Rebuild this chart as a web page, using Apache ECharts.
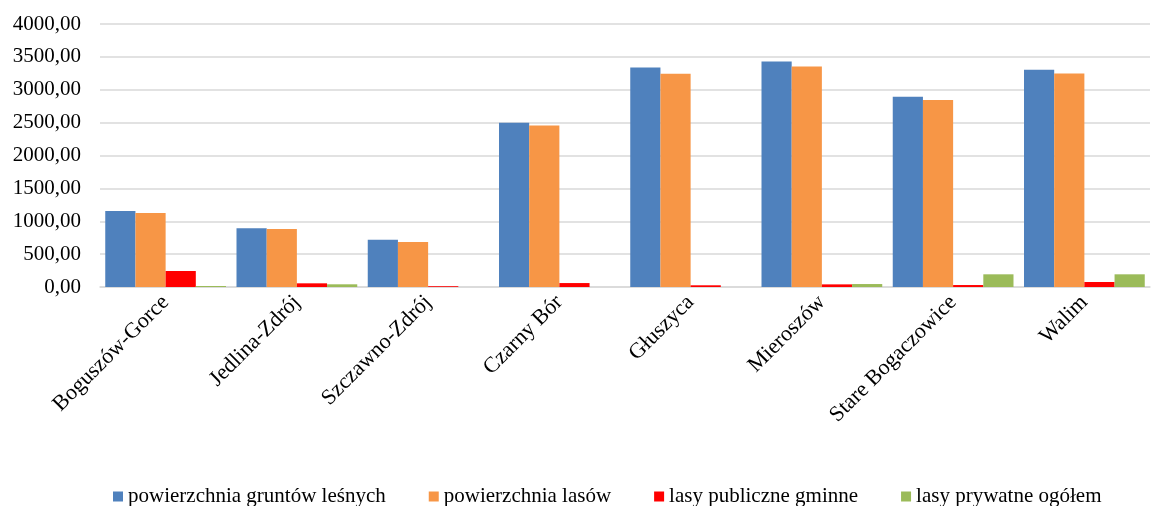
<!DOCTYPE html>
<html>
<head>
<meta charset="utf-8">
<script src="https://cdn.jsdelivr.net/npm/echarts@6/dist/echarts.min.js"></script>
<style>
  html, body { margin: 0; padding: 0; background: #fff; }
  #main { width: 1153px; height: 506px; }
</style>
</head>
<body>
<div id="main"></div>
<script>
// gminy
var categories = ['Boguszów-Gorce', 'Jedlina-Zdrój', 'Szczawno-Zdrój', 'Czarny Bór', 'Głuszyca', 'Mieroszów', 'Stare Bogaczowice', 'Walim'];
// wartości
var gruntyLesne = [1156, 893, 720, 2500, 3338, 3429, 2894, 3303];
var powLasow = [1125, 882, 684, 2455, 3242, 3353, 2843, 3247];
var publiczneGminne = [243, 56, 12, 60, 26, 40, 30, 76];
var prywatneOgolem = [15, 41, 0, 0, 0, 45, 193, 193];
var yTicks = { min: 0, max: 4000, step: 500 };

var font = 'Liberation Serif';
var chart = echarts.init(document.getElementById('main'));
chart.setOption({
  animation: false,
  textStyle: { fontFamily: font },
  grid: { left: 100, right: 3, top: 24, bottom: 219 },
  legend: {
    top: 481,
    left: 108,
    itemWidth: 10,
    itemHeight: 10,
    itemGap: 43,
    icon: 'rect',
    textStyle: { fontFamily: font, fontSize: 21, color: '#000' },
    data: ['powierzchnia gruntów leśnych', 'powierzchnia lasów', 'lasy publiczne gminne', 'lasy prywatne ogółem']
  },
  xAxis: {
    type: 'category',
    data: categories,
    axisTick: { show: false },
    axisLine: { lineStyle: { color: '#d9d9d9', width: 1.5 } },
    axisLabel: { rotate: 45, margin: 12, interval: 0, color: '#000', fontFamily: font, fontSize: 22 }
  },
  yAxis: {
    type: 'value',
    min: yTicks.min,
    max: yTicks.max,
    interval: yTicks.step,
    axisLine: { show: false },
    axisTick: { show: false },
    splitLine: { lineStyle: { color: '#d9d9d9', width: 1.5 } },
    axisLabel: {
      margin: 19,
      color: '#000',
      fontFamily: font,
      fontSize: 21,
      formatter: function (v) { return v.toFixed(2).replace('.', ','); }
    }
  },
  series: [
    { name: 'powierzchnia gruntów leśnych', type: 'bar', data: gruntyLesne, barGap: '0%', barCategoryGap: '8%', itemStyle: { color: '#4F81BD' } },
    { name: 'powierzchnia lasów', type: 'bar', data: powLasow, itemStyle: { color: '#F79646' } },
    { name: 'lasy publiczne gminne', type: 'bar', data: publiczneGminne, itemStyle: { color: '#FF0000' } },
    { name: 'lasy prywatne ogółem', type: 'bar', data: prywatneOgolem, itemStyle: { color: '#9BBB59' } }
  ]
});
</script>
</body>
</html>
